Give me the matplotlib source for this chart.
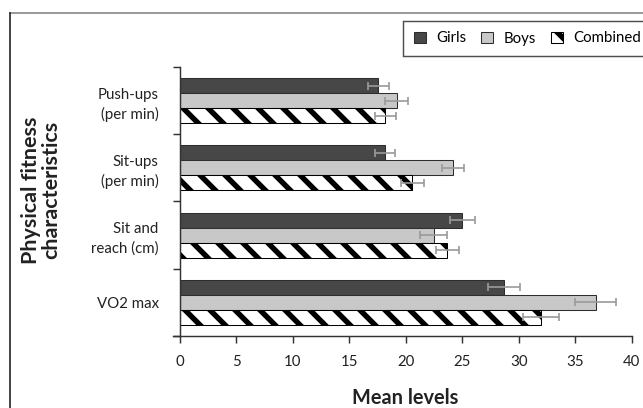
import matplotlib.pyplot as plt
from matplotlib.lines import Line2D
import numpy as np

plt.rcParams['font.family'] = ['Lato', 'DejaVu Sans']
plt.rcParams['hatch.linewidth'] = 2.6

# data, bottom to top
categories = ["VO2 max", "Sit and\nreach (cm)", "Sit-ups\n(per min)", "Push-ups\n(per min)"]
girls = [28.7, 25.0, 18.2, 17.6]
boys = [36.8, 22.5, 24.2, 19.2]
combined = [32.0, 23.7, 20.6, 18.2]
girls_err = [1.45, 1.1, 0.9, 0.9]
boys_err = [1.85, 1.2, 1.0, 1.0]
combined_err = [1.6, 1.0, 1.0, 0.95]
xticks = [0, 5, 10, 15, 20, 25, 30, 35, 40]

W, H, DPI = 643, 408, 150
fig = plt.figure(figsize=(W / DPI, H / DPI), dpi=DPI)

# outer frame
fig.add_artist(Line2D([10 / W, 1.0], [1 - 13 / H, 1 - 13 / H], color="#888888", lw=0.8,
                      transform=fig.transFigure))
fig.add_artist(Line2D([10 / W, 10 / W], [0, 1 - 13 / H], color="#222222", lw=0.8,
                      transform=fig.transFigure))

ax = fig.add_axes([179.5 / W, 72 / H, (631.7 - 179.5) / W, (336 - 67) / H])

y = np.arange(len(categories))
h = 0.222
err_kw = dict(ecolor="#9a9a9a", elinewidth=0.8, capsize=1.8, capthick=0.8)

ax.barh(y + h, girls, height=h, color="#474747", edgecolor="#2e2e2e", linewidth=0.5,
        xerr=girls_err, error_kw=err_kw, label="Girls")
ax.barh(y, boys, height=h, color="#c8c8c8", edgecolor="#2e2e2e", linewidth=0.5,
        xerr=boys_err, error_kw=err_kw, label="Boys")
ax.barh(y - h, combined, height=h, color="white", edgecolor="black", linewidth=0.5,
        hatch="\\\\", xerr=combined_err, error_kw=err_kw, label="Combined")

ax.set_xlim(0, 40)
ax.set_ylim(-0.5, len(categories) - 0.5)
ax.set_xticks(xticks)
ax.set_yticks(y)
ax.set_yticklabels(categories, fontsize=7.2, color="#222222", linespacing=1.45)
ax.set_yticks(np.arange(len(categories) + 1) - 0.5, minor=True)
ax.tick_params(axis="y", which="major", length=0, pad=10)
ax.tick_params(axis="y", which="minor", length=3.5, width=0.7, color="#333333")
ax.tick_params(axis="x", length=3.2, width=0.7, color="#333333", labelsize=7.2,
               labelcolor="#222222", pad=6)

for s in ["top", "right"]:
    ax.spines[s].set_visible(False)
for s in ["left", "bottom"]:
    ax.spines[s].set_color("#333333")
    ax.spines[s].set_linewidth(0.7)
ax.spines["bottom"].set_bounds(-0.6, 40)

ax.set_xlabel("Mean levels", fontsize=9.6, fontweight="bold", color="#222222", labelpad=9)
fig.text(41 / W, 1 - 190 / H, "Physical fitness\ncharacteristics", rotation=90,
         ha="center", va="center", fontsize=10.3, fontweight="bold", color="#222222",
         linespacing=1.0)

leg = fig.legend(loc="upper left", bbox_to_anchor=(403 / W, 1 - 21 / H), ncol=3,
                 fontsize=7.2, frameon=True, fancybox=False, edgecolor="#222222",
                 handlelength=0.8, handleheight=0.8, handletextpad=0.7, columnspacing=1.0,
                 borderpad=0.7, borderaxespad=0)
leg.get_frame().set_linewidth(0.7)

fig.savefig("out.png", dpi=DPI)
